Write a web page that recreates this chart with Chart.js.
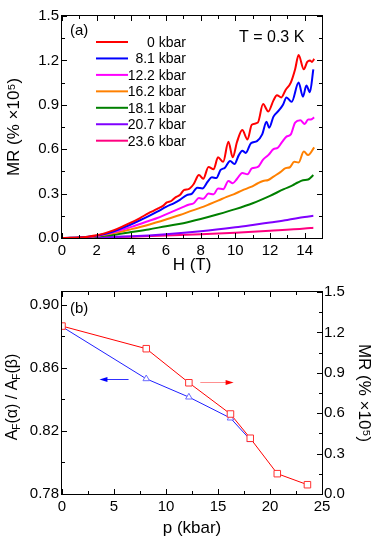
<!DOCTYPE html>
<html>
<head>
<meta charset="utf-8">
<script src="https://cdn.jsdelivr.net/npm/chart.js@4.4.1/dist/chart.umd.min.js"></script>
<style>
  body { margin: 0; background: #fff; }
  #wrap { position: relative; width: 374px; height: 544px; }
  canvas { position: absolute; left: 0; top: 0; }
</style>
</head>
<body>
<div id="wrap">
  <canvas id="mrField" width="374" height="544"></canvas>
  <canvas id="mrPressure" width="374" height="544"></canvas>
</div>
<script>
// ---- panel (a): MR vs H, pairs of [H (T), MR (% x10^5)]
const pressureLabels = ['0 kbar', '8.1 kbar', '12.2 kbar', '16.2 kbar', '18.1 kbar', '20.7 kbar', '23.6 kbar'];

const mr0kbar = [[0,0],[0.5,0.001],[1,0.003],[1.5,0.009],[2,0.018],[2.5,0.033],[3,0.053],[3.5,0.078],[4,0.105],[4.5,0.135],[5,0.168],[5.3,0.185],[5.55,0.2],[5.8,0.215],[6.05,0.24],[6.3,0.25],[6.55,0.275],[6.8,0.29],[7.05,0.325],[7.3,0.33],[7.6,0.365],[7.9,0.425],[8.15,0.4],[8.45,0.48],[8.75,0.465],[9.0,0.545],[9.3,0.515],[9.6,0.65],[9.85,0.545],[10.1,0.65],[10.4,0.73],[10.7,0.665],[10.95,0.765],[11.3,0.78],[11.6,0.905],[11.9,0.855],[12.2,0.93],[12.4,0.965],[12.65,0.95],[12.9,1.0],[13.2,1.05],[13.45,1.14],[13.65,1.236],[13.95,1.14],[14.15,1.19],[14.3,1.2],[14.42,1.19],[14.55,1.21]];
const mr8kbar = [[0,0],[0.5,0.001],[1,0.003],[1.5,0.008],[2,0.016],[2.5,0.029],[3,0.046],[3.5,0.068],[4,0.093],[4.5,0.12],[5,0.148],[5.5,0.178],[6,0.21],[6.5,0.238],[6.8,0.258],[7.2,0.29],[7.5,0.3],[7.8,0.34],[8.1,0.335],[8.4,0.38],[8.65,0.41],[8.9,0.405],[9.15,0.46],[9.4,0.475],[9.7,0.52],[9.95,0.5],[10.2,0.56],[10.4,0.59],[10.6,0.575],[10.9,0.64],[11.25,0.655],[11.55,0.7],[11.8,0.785],[11.95,0.745],[12.2,0.82],[12.5,0.86],[12.75,0.9],[12.95,0.95],[13.25,0.92],[13.65,1.05],[13.9,0.955],[14.1,1.03],[14.3,0.985],[14.5,1.14]];
const mr12kbar = [[0,0],[1,0.002],[2,0.014],[3,0.04],[4,0.075],[5,0.115],[5.5,0.135],[6,0.16],[6.5,0.185],[7,0.21],[7.3,0.225],[7.6,0.235],[7.9,0.27],[8.15,0.265],[8.45,0.3],[8.75,0.295],[9.0,0.335],[9.3,0.33],[9.6,0.385],[9.85,0.37],[10.1,0.4],[10.4,0.44],[10.7,0.43],[10.95,0.47],[11.3,0.48],[11.6,0.53],[11.9,0.56],[12.2,0.6],[12.45,0.61],[12.7,0.65],[12.95,0.685],[13.2,0.7],[13.45,0.78],[13.75,0.795],[14.0,0.77],[14.2,0.8],[14.35,0.8],[14.55,0.815]];
const mr16kbar = [[0,0],[1,0.002],[2,0.013],[3,0.033],[4,0.06],[5,0.09],[6,0.125],[6.8,0.155],[7.5,0.185],[8.0,0.205],[8.5,0.228],[9.0,0.252],[9.5,0.278],[9.9,0.295],[10.4,0.322],[10.9,0.345],[11.3,0.37],[11.6,0.385],[11.9,0.392],[12.2,0.415],[12.6,0.445],[12.9,0.472],[13.15,0.478],[13.4,0.515],[13.65,0.51],[13.95,0.585],[14.2,0.56],[14.55,0.612]];
const mr18kbar = [[0,0],[1,0.001],[2,0.01],[3,0.022],[4,0.04],[5,0.058],[6,0.08],[7,0.1],[8,0.128],[9,0.16],[10,0.195],[11,0.235],[12,0.285],[12.8,0.33],[13.3,0.355],[13.6,0.375],[13.9,0.39],[14.2,0.395],[14.5,0.425]];
const mr20kbar = [[0,0],[1,0.001],[2,0.003],[4,0.011],[6,0.025],[8,0.045],[10,0.072],[11,0.088],[12,0.105],[13,0.122],[14,0.142],[14.5,0.15]];
const mr23kbar = [[0,0],[1,0.001],[2,0.003],[4,0.009],[6,0.017],[8,0.026],[10,0.036],[12,0.049],[14,0.064],[14.5,0.07]];

const fieldTicks = [0, 2, 4, 6, 8, 10, 12, 14];
const mrTicks = [0, 0.3, 0.6, 0.9, 1.2, 1.5];

// ---- panel (b): vs pressure
const squarePressure = [0, 8.1, 12.2, 16.2, 18.1, 20.7, 23.6];
const squareMR = [1.247, 1.079, 0.826, 0.594, 0.414, 0.151, 0.069];
const trianglePressure = [0, 8.1, 12.2, 16.2, 18.1];
const triangleRatio = [0.886, 0.853, 0.8414, 0.8281, 0.8144];
const pressureTicks = [0, 5, 10, 15, 20, 25];
const ratioTicks = [0.78, 0.82, 0.86, 0.90];

const curves = [mr0kbar, mr8kbar, mr12kbar, mr16kbar, mr18kbar, mr20kbar, mr23kbar];
const curveColors = ['#ff0000', '#0000ff', '#ff00ff', '#ff8000', '#008000', '#8000ff', '#ff0080'];

const fontName = "'Liberation Sans', Arial, sans-serif";
Chart.defaults.font.family = fontName;
Chart.defaults.color = '#000';

// box round the plot and inward tick marks, major and minor
const frameTicks = {
    id: 'frameTicks',
    afterDatasetsDraw(chart, args, opts) {
        const { ctx, chartArea: a } = chart;
        ctx.save();
        ctx.strokeStyle = '#000';
        ctx.lineWidth = 1;
        ctx.strokeRect(a.left - 0.5, a.top - 0.5, a.right - a.left + 1, a.bottom - a.top + 1);
        opts.marks.forEach(m => {
            const scale = chart.scales[m.axis];
            ctx.beginPath();
            for (let k = 0; ; k++) {
                const v = scale.min + k * m.minor;
                if (v > scale.max + 1e-9) break;
                const len = m.major.some(t => Math.abs(t - v) < 1e-6) ? 5 : 3;
                const p = Math.round(scale.getPixelForValue(v)) + 0.5;
                m.sides.forEach(side => {
                    if (side === 'bottom') { ctx.moveTo(p, a.bottom); ctx.lineTo(p, a.bottom - len); }
                    if (side === 'top') { ctx.moveTo(p, a.top); ctx.lineTo(p, a.top + len); }
                    if (side === 'left') { ctx.moveTo(a.left, p); ctx.lineTo(a.left + len, p); }
                    if (side === 'right') { ctx.moveTo(a.right, p); ctx.lineTo(a.right - len, p); }
                });
            }
            ctx.stroke();
        });
        ctx.restore();
    }
};

const fieldNotes = {
    id: 'fieldNotes',
    afterDraw(chart) {
        const { ctx, chartArea: a } = chart;
        ctx.save();
        ctx.fillStyle = '#000';
        ctx.textBaseline = 'middle';
        ctx.font = `15px ${fontName}`;
        ctx.fillText('(a)', a.left + 8, a.top + 15);
        ctx.font = `16px ${fontName}`;
        ctx.fillText('T = 0.3 K', a.left + 177, a.top + 22);
        ctx.font = `14px ${fontName}`;
        ctx.textAlign = 'right';
        chart.data.datasets.forEach((ds, i) => {
            const y = a.top + 26 + i * 16.45;
            ctx.strokeStyle = ds.borderColor;
            ctx.lineWidth = 2;
            ctx.beginPath();
            ctx.moveTo(a.left + 34, y);
            ctx.lineTo(a.left + 66, y);
            ctx.stroke();
            ctx.fillText(ds.label, a.left + 124, y + 1);
        });
        ctx.restore();
    }
};

function arrow(ctx, x0, x1, y, shaft, head) {
    const dir = Math.sign(x1 - x0);
    ctx.save();
    ctx.strokeStyle = shaft;
    ctx.lineWidth = 1;
    ctx.beginPath();
    ctx.moveTo(x0, y);
    ctx.lineTo(x1 - dir * 6, y);
    ctx.stroke();
    ctx.fillStyle = head;
    ctx.beginPath();
    ctx.moveTo(x1, y);
    ctx.lineTo(x1 - dir * 8, y - 2.5);
    ctx.lineTo(x1 - dir * 8, y + 2.5);
    ctx.closePath();
    ctx.fill();
    ctx.restore();
}

const pressureNotes = {
    id: 'pressureNotes',
    afterDraw(chart) {
        const { ctx, chartArea: a, scales } = chart;
        ctx.save();
        ctx.fillStyle = '#000';
        ctx.textBaseline = 'middle';
        ctx.font = `15px ${fontName}`;
        ctx.fillText('(b)', a.left + 8, a.top + 17);

        const yb = Math.round(scales.y.getPixelForValue(0.8528)) + 0.5;
        arrow(ctx, scales.x.getPixelForValue(6.4), scales.x.getPixelForValue(3.6), yb, '#3030ff', '#0000ff');
        const yr = Math.round(scales.y1.getPixelForValue(0.829)) + 0.5;
        arrow(ctx, scales.x.getPixelForValue(13.3), scales.x.getPixelForValue(16.5), yr, '#ff9090', '#ff0000');

        // left axis title with subscripts
        ctx.fillStyle = '#000';
        const parts = [['A', 16, 0], ['F', 10, 4], ['(\u03b1) / A', 16, 0], ['F', 10, 4], ['(\u03b2)', 16, 0]];
        let total = 0;
        parts.forEach(p => { ctx.font = `${p[1]}px ${fontName}`; total += ctx.measureText(p[0]).width; });
        ctx.translate(13, (a.top + a.bottom) / 2 + 4);
        ctx.rotate(-Math.PI / 2);
        let x = -total / 2;
        parts.forEach(p => {
            ctx.font = `${p[1]}px ${fontName}`;
            ctx.fillText(p[0], x, p[2]);
            x += ctx.measureText(p[0]).width;
        });
        ctx.restore();
    }
};

const setTicks = list => scale => { scale.ticks = list.map(v => ({ value: v })); };
const tickFont = { size: 15 };
const titleFont = { size: 17 };

new Chart(document.getElementById('mrField'), {
    type: 'line',
    data: {
        datasets: curves.map((c, i) => ({
            label: pressureLabels[i],
            data: c.map(([h, m]) => ({ x: h, y: m })),
            borderColor: curveColors[i],
            borderWidth: 2,
            pointRadius: 0,
            cubicInterpolationMode: 'monotone',
            fill: false
        }))
    },
    options: {
        responsive: false,
        animation: false,
        devicePixelRatio: 1,
        layout: { padding: { top: 16, right: 52, bottom: 268, left: 0 } },
        plugins: {
            legend: { display: false },
            tooltip: { enabled: false },
            frameTicks: {
                marks: [
                    { axis: 'x', minor: 1, major: fieldTicks, sides: ['bottom', 'top'] },
                    { axis: 'y', minor: 0.15, major: mrTicks, sides: ['left', 'right'] }
                ]
            }
        },
        scales: {
            x: {
                type: 'linear', min: 0, max: 15,
                grid: { display: false, drawTicks: false }, border: { display: false },
                afterBuildTicks: setTicks(fieldTicks),
                afterFit: s => { s.height = 38; },
                ticks: { font: tickFont, padding: 4, maxRotation: 0, autoSkip: false, callback: v => String(v) },
                title: { display: true, text: 'H (T)', font: titleFont, padding: { top: 0, bottom: 0 } }
            },
            y: {
                type: 'linear', min: 0, max: 1.5,
                grid: { display: false, drawTicks: false }, border: { display: false },
                afterBuildTicks: setTicks(mrTicks),
                afterFit: s => { s.width = 62; },
                ticks: { font: tickFont, padding: 3, callback: v => v.toFixed(1) },
                title: { display: true, text: 'MR (% \u00d710\u2075)', font: titleFont, padding: { top: 4, bottom: 0 } }
            }
        }
    },
    plugins: [frameTicks, fieldNotes]
});

new Chart(document.getElementById('mrPressure'), {
    type: 'line',
    data: {
        datasets: [
            {
                data: squarePressure.map((p, i) => ({ x: p, y: squareMR[i] })),
                yAxisID: 'y1',
                borderColor: '#ff0000',
                borderWidth: 1,
                pointStyle: 'rect',
                pointRadius: 4.6,
                pointBorderColor: '#ff3030',
                pointBackgroundColor: '#fff',
                pointBorderWidth: 1,
                tension: 0
            },
            {
                data: trianglePressure.map((p, i) => ({ x: p, y: triangleRatio[i] })),
                yAxisID: 'y',
                borderColor: '#2020ff',
                borderWidth: 1,
                pointStyle: 'triangle',
                pointRadius: 3.8,
                pointBorderColor: '#6a6aff',
                pointBackgroundColor: '#fff',
                pointBorderWidth: 1,
                tension: 0
            }
        ]
    },
    options: {
        responsive: false,
        animation: false,
        devicePixelRatio: 1,
        layout: { padding: { top: 292, right: 0, bottom: 0, left: 0 } },
        plugins: {
            legend: { display: false },
            tooltip: { enabled: false },
            frameTicks: {
                marks: [
                    { axis: 'x', minor: 2.5, major: pressureTicks, sides: ['bottom', 'top'] },
                    { axis: 'y', minor: 0.02, major: ratioTicks, sides: ['left'] },
                    { axis: 'y1', minor: 0.15, major: mrTicks, sides: ['right'] }
                ]
            }
        },
        scales: {
            x: {
                type: 'linear', min: 0, max: 25,
                grid: { display: false, drawTicks: false }, border: { display: false },
                afterBuildTicks: setTicks(pressureTicks),
                afterFit: s => { s.height = 50; },
                ticks: { font: tickFont, padding: 4, maxRotation: 0, autoSkip: false, callback: v => String(v) },
                title: { display: true, text: 'p (kbar)', font: titleFont, padding: { top: 0, bottom: 5 } }
            },
            y: {
                type: 'linear', position: 'left', min: 0.78, max: 0.908,
                grid: { display: false, drawTicks: false }, border: { display: false },
                afterBuildTicks: setTicks(ratioTicks),
                afterFit: s => { s.width = 62; },
                ticks: { font: tickFont, padding: 3, callback: v => v.toFixed(2) }
            },
            y1: {
                type: 'linear', position: 'right', min: 0, max: 1.5,
                grid: { display: false, drawTicks: false }, border: { display: false },
                afterBuildTicks: setTicks(mrTicks),
                afterFit: s => { s.width = 52; },
                ticks: { font: tickFont, padding: 2, callback: v => v.toFixed(1) },
                title: { display: true, text: 'MR (% \u00d710\u2075)', font: titleFont, padding: { top: 0, bottom: 0 } }
            }
        }
    },
    plugins: [frameTicks, pressureNotes]
});
</script>
</body>
</html>
